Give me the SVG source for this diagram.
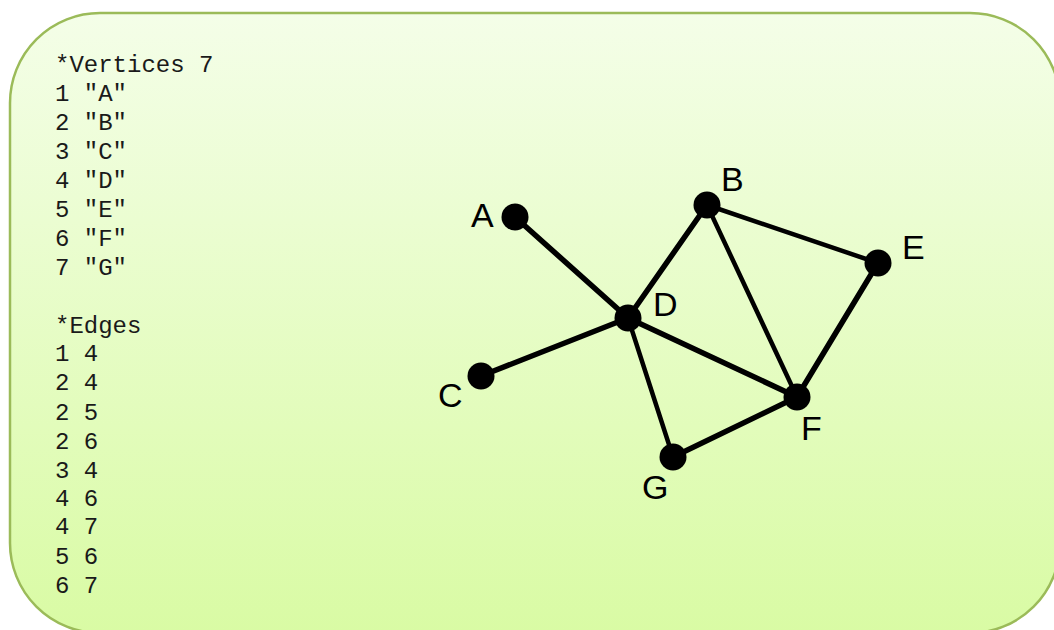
<svg xmlns="http://www.w3.org/2000/svg" width="1054" height="630" viewBox="0 0 1054 630">
<defs>
<linearGradient id="bg" x1="0" y1="0" x2="0" y2="1">
<stop offset="0" stop-color="#f4fee8"/>
<stop offset="1" stop-color="#d9fba4"/>
</linearGradient>
<style>
.code{font-family:"Liberation Mono","Courier New",monospace;font-size:24px;fill:#1a1a1a}
.lbl{font-family:"Liberation Sans",Arial,sans-serif;font-size:34px;fill:#000}
.e{stroke:#000;stroke-width:4.5;stroke-linecap:round}
.t{stroke-width:5.5}
.n{fill:#000}
</style>
</defs>
<rect x="10" y="13" width="1050" height="620" rx="90" ry="90" fill="url(#bg)" stroke="#9bbb59" stroke-width="2.5"/>
<g id="code">
<text class="code" x="55" y="72">*Vertices 7</text>
<text class="code" x="55" y="101">1 "A"</text>
<text class="code" x="55" y="130">2 "B"</text>
<text class="code" x="55" y="159">3 "C"</text>
<text class="code" x="55" y="188">4 "D"</text>
<text class="code" x="55" y="217">5 "E"</text>
<text class="code" x="55" y="246">6 "F"</text>
<text class="code" x="55" y="275">7 "G"</text>
<text class="code" x="55" y="333">*Edges</text>
<text class="code" x="55" y="361">1 4</text>
<text class="code" x="55" y="390">2 4</text>
<text class="code" x="55" y="420">2 5</text>
<text class="code" x="55" y="449">2 6</text>
<text class="code" x="55" y="478">3 4</text>
<text class="code" x="55" y="506">4 6</text>
<text class="code" x="55" y="534">4 7</text>
<text class="code" x="55" y="564">5 6</text>
<text class="code" x="55" y="593">6 7</text>
</g>
<g id="edges">
<line class="e t" x1="515" y1="217" x2="628" y2="318"/>
<line class="e t" x1="707" y1="205" x2="628" y2="318"/>
<line class="e" x1="707" y1="205" x2="878" y2="263"/>
<line class="e" x1="707" y1="205" x2="797" y2="397"/>
<line class="e t" x1="481" y1="376" x2="628" y2="318"/>
<line class="e t" x1="628" y1="318" x2="797" y2="397"/>
<line class="e" x1="628" y1="318" x2="673" y2="457"/>
<line class="e t" x1="878" y1="263" x2="797" y2="397"/>
<line class="e t" x1="797" y1="397" x2="673" y2="457"/>
</g>
<g id="A"><circle class="n" cx="515" cy="217" r="13.5"/><text class="lbl" x="471" y="227">A</text></g>
<g id="B"><circle class="n" cx="707" cy="205" r="13.5"/><text class="lbl" x="721" y="191">B</text></g>
<g id="C"><circle class="n" cx="481" cy="376" r="13.5"/><text class="lbl" x="438" y="407">C</text></g>
<g id="D"><circle class="n" cx="628" cy="318" r="13.5"/><text class="lbl" x="653" y="316">D</text></g>
<g id="E"><circle class="n" cx="878" cy="263" r="13.5"/><text class="lbl" x="902" y="259">E</text></g>
<g id="F"><circle class="n" cx="797" cy="397" r="13.5"/><text class="lbl" x="801" y="440">F</text></g>
<g id="G"><circle class="n" cx="673" cy="457" r="13.5"/><text class="lbl" x="642" y="499">G</text></g>
</svg>
